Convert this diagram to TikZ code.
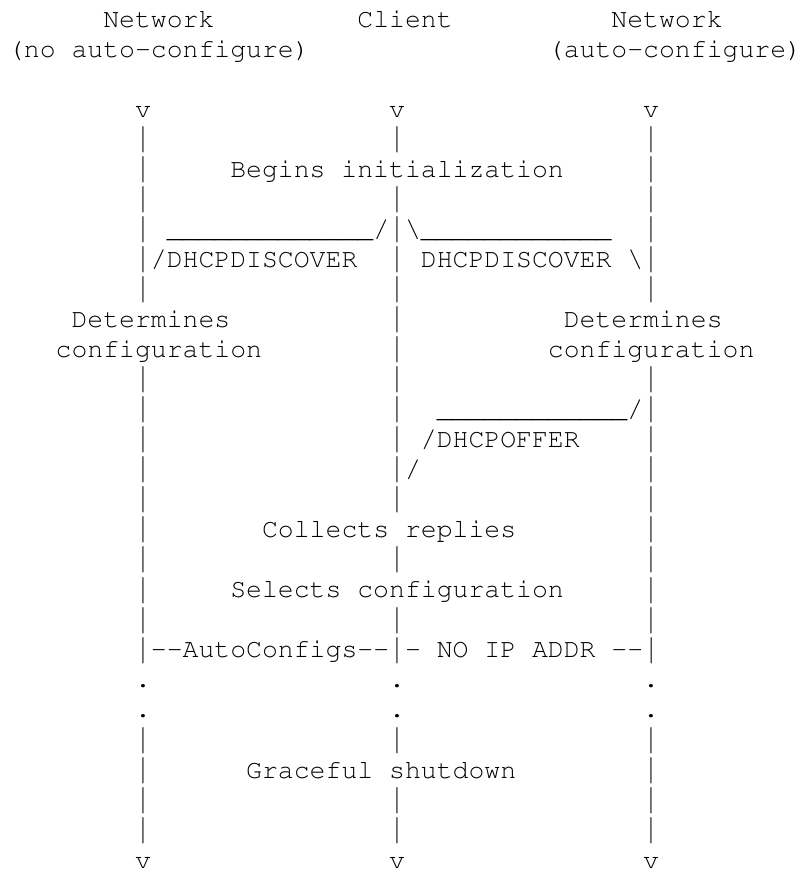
\documentclass[tikz,border=0pt]{standalone}
\usepackage[T1]{fontenc}
\usepackage{courier}
\usepackage{graphicx}
% the bar glyph stretched to the height of the Courier New bar
\newcommand\vb{\raisebox{-1.23pt}{\scalebox{1}[1.377]{|}}}
\begin{document}
\begin{tikzpicture}[x=15.88pt,y=-30.04pt,
  t/.style={anchor=base west,inner sep=0pt,outer sep=0pt,
    font=\ttfamily\fontsize{26.47pt}{30pt}\selectfont}]
\frenchspacing
\useasboundingbox (-0.504,-0.899) rectangle (50.315,28.162);
% headings
\node[t] (h1) at (6,0) {Network};
\node[t] (h2) at (22,0) {Client};
\node[t] (h3) at (38,0) {Network};
\node[t] (h4) at (0,1) {(no auto-configure)};
\node[t] (h5) at (34,1) {(auto-configure)};
% arrow heads at the top and bottom, dots
\foreach \c/\n in {8/L,24/M,40/R}{
  \node[t] (top\n) at (\c,3) {v};
  \node[t] (bot\n) at (\c,28) {v};
  \node[t] (dotA\n) at (\c,22) {.};
  \node[t] (dotB\n) at (\c,23) {.};
}
% full rows of bars
\foreach \r in {4,6,9,12,16,18,20,24,26,27}{
  \foreach \c/\n in {8/L,24/M,40/R}{
    \node[t] (bar\n\r) at (\c,\r) {\vb};
  }
}
% rows with some bars only
\foreach \r in {5,7,13,14,15,17,19,25}{
  \node[t] (barL\r) at (8,\r) {\vb};
}
\foreach \r in {5,14,15,17,19,25}{
  \node[t] (barR\r) at (40,\r) {\vb};
}
\foreach \r in {10,11,13,14}{
  \node[t] (barM\r) at (24,\r) {\vb};
}
\node[t] (barR7) at (40,7) {\vb};
% texts
\node[t] (begins) at (14,5) {Begins initialization};
\node[t] (disc1) at (10,7) {\_\_\_\_\_\_\_\_\_\_\_\_\_/\vb\textbackslash\_\_\_\_\_\_\_\_\_\_\_\_};
\node[t] (disc2) at (8,8) {\vb/DHCPDISCOVER};
\node[t] (disc3) at (24,8) {\vb{} DHCPDISCOVER \textbackslash\vb};
\node[t] (det1) at (4,10) {Determines};
\node[t] (det2) at (35,10) {Determines};
\node[t] (conf1) at (3,11) {configuration};
\node[t] (conf2) at (34,11) {configuration};
\node[t] (off1) at (27,13) {\_\_\_\_\_\_\_\_\_\_\_\_/\vb};
\node[t] (off2) at (26,14) {/DHCPOFFER};
\node[t] (off3) at (24,15) {\vb/};
\node[t] (coll) at (16,17) {Collects replies};
\node[t] (sel) at (14,19) {Selects configuration};
\node[t] (auto) at (8,21) {\vb-{}-AutoConfigs-{}-\vb- NO IP ADDR -{}-\vb};
\node[t] (shut) at (15,25) {Graceful shutdown};
\end{tikzpicture}
\end{document}
